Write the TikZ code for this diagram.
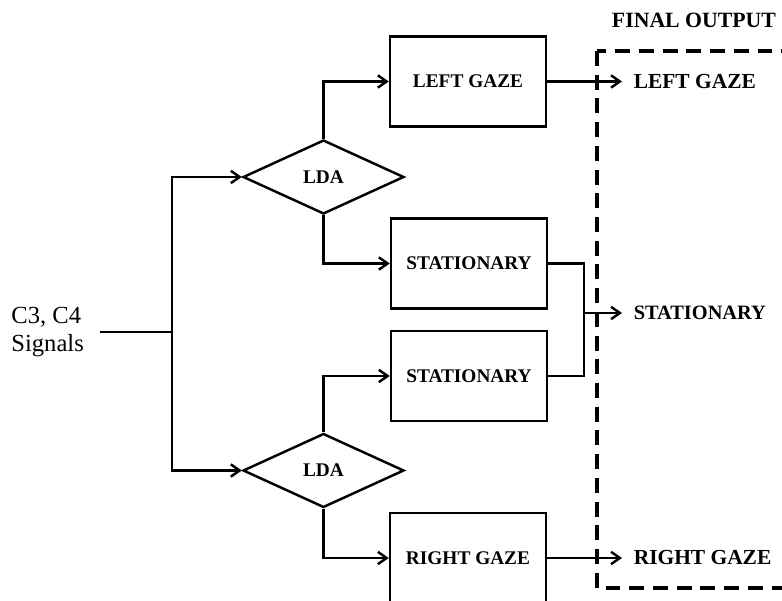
\documentclass[tikz,border=0pt]{standalone}
\usepackage{fontspec}
\setmainfont{Liberation Serif}
\usetikzlibrary{shapes.geometric,arrows.meta}

\begin{document}
\begin{tikzpicture}[x=0.02cm, y=-0.02cm, line width=1.4pt,
  box/.style={draw, rectangle, minimum width=3.12cm, minimum height=1.8cm,
    font=\fontsize{11}{13}\selectfont\bfseries},
  decision/.style={draw, diamond, minimum width=3.22cm, minimum height=1.48cm,
    inner sep=0pt, font=\fontsize{11}{13}\selectfont\bfseries},
  outtext/.style={anchor=west, inner xsep=6pt,
    font=\fontsize{12.2}{14}\selectfont\bfseries},
  outframe/.style={dash pattern=on 8.5pt off 5pt, line width=1.8pt},
  arr/.style={-{Straight Barb[length=5pt,width=7pt]}}]

  % Page frame
  \clip (0,0) rectangle (782,601);

  % Input
  \node[anchor=east, align=left, inner xsep=8.5pt,
    font=\fontsize{14}{16}\selectfont] (sig) at (100,332) {C3, C4\\Signals};
  \coordinate (split) at (172,332);

  % Classifiers
  \node[decision] (ldaT) at (323.5,177)   {LDA};
  \node[decision] (ldaB) at (323.5,470.5) {LDA};

  % Class boxes
  \node[box] (lgaze) at (468,81.5) {LEFT GAZE};
  \node[box] (stat1) at (469,263.5) {STATIONARY};
  \node[box] (stat2) at (469,376)   {STATIONARY};
  \node[box] (rgaze) at (468,558)   {RIGHT GAZE};

  % Final output
  \draw[outframe] (597,51) rectangle (800,588);
  \node[font=\fontsize{12.4}{14}\selectfont\bfseries] (final) at (694,20) {FINAL OUTPUT};
  \node[outtext] (outL) at (622,81.5) {LEFT GAZE};
  \node[outtext, font=\fontsize{11.6}{13}\selectfont\bfseries] (outS) at (622,313) {STATIONARY};
  \node[outtext] (outR) at (622,558) {RIGHT GAZE};
  \coordinate (merge) at (584,313);

  % Connectors
  \draw (sig.east) -- (split);
  \draw[arr] (split) |- (ldaT.west);
  \draw[arr] (split) |- (ldaB.west);
  \draw[arr] (ldaT.north) |- (lgaze.west);
  \draw[arr] (ldaT.south) |- (stat1.west);
  \draw[arr] (ldaB.north) |- (stat2.west);
  \draw[arr] (ldaB.south) |- (rgaze.west);
  \draw[arr] (lgaze.east) -- (outL.west);
  \draw (stat1.east) -| (merge) |- (stat2.east);
  \draw[arr] (merge) -- (outS.west);
  \draw[arr] (rgaze.east) -- (outR.west);

\end{tikzpicture}
\end{document}
